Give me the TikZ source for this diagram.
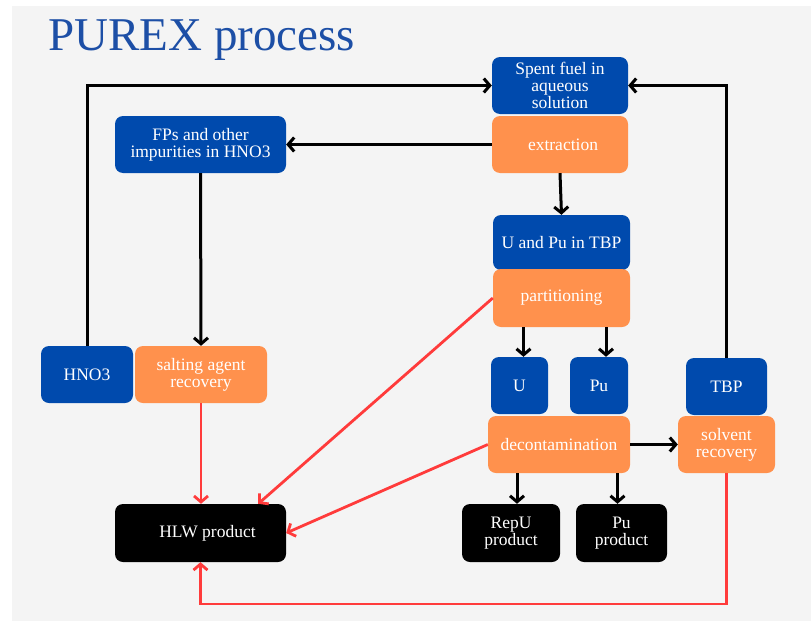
\documentclass[tikz,border=0pt]{standalone}
\usepackage{fontspec}
\setmainfont{Liberation Serif}
\usetikzlibrary{arrows.meta,calc}
\definecolor{bgray}{HTML}{F4F4F4}
\definecolor{boxblue}{HTML}{004AAD}
\definecolor{boxorange}{HTML}{FF914D}
\definecolor{titleblue}{HTML}{1D4FA6}
\definecolor{linered}{HTML}{FF3B3B}
\tikzset{
  box/.style={rectangle, rounded corners=8pt, inner sep=2pt, align=center, text=white,
    font=\fontsize{17.5}{17}\selectfont},
  bluebox/.style={box, fill=boxblue},
  orangebox/.style={box, fill=boxorange},
  blackbox/.style={box, fill=black},
  arr/.style={line width=3pt, -{Straight Barb[length=6pt,width=14pt,line width=3pt]}},
  redarr/.style={draw=linered, line width=2.8pt, -{Straight Barb[length=6pt,width=14pt,line width=2.8pt]}},
}
\begin{document}
\begin{tikzpicture}[x=1pt,y=-1pt]
\fill[white] (0,0) rectangle (811,621);
\useasboundingbox (0,0) rectangle (811,621);
\fill[bgray] (12,6) rectangle (811,621);

\node[anchor=base west, text=titleblue, font=\fontsize{47}{47}\selectfont, inner sep=0pt] (title) at (48,50) {PUREX process};

\node[bluebox, minimum width=136pt, minimum height=57pt] (spent) at (560,85.5) {Spent fuel in\\aqueous\\solution};
\node[orangebox, minimum width=136pt, minimum height=57pt] (extr) at (560,144.5) {\hspace{6pt}extraction};
\node[bluebox, minimum width=171pt, minimum height=57pt] (fps) at (200.5,144.5) {FPs and other\\impurities in HNO3};
\node[bluebox, minimum width=137pt, minimum height=55pt] (uptbp) at (561.5,242.5) {U and Pu in TBP};
\node[orangebox, minimum width=137pt, minimum height=58pt] (part) at (561.5,298) {partitioning};
\node[bluebox, minimum width=57pt, minimum height=57pt] (u) at (519.5,385.5) {U};
\node[bluebox, minimum width=58pt, minimum height=57pt] (pu) at (599,385.5) {Pu};
\node[bluebox, minimum width=81pt, minimum height=57pt] (tbp) at (726.5,386.5) {TBP};
\node[orangebox, minimum width=142pt, minimum height=57pt] (decon) at (559,444.5) {decontamination};
\node[orangebox, minimum width=97pt, minimum height=57pt] (solv) at (726.5,444.5) {solvent\\recovery};
\node[blackbox, minimum width=98pt, minimum height=58pt] (repu) at (511,533) {RepU\\product};
\node[blackbox, minimum width=91pt, minimum height=58pt] (puprod) at (621.5,533) {Pu\\product};
\node[bluebox, minimum width=92pt, minimum height=57pt] (hno3) at (87,374.5) {HNO3};
\node[orangebox, minimum width=132pt, minimum height=57pt] (salt) at (201,374.5) {salting agent\\recovery};
\node[blackbox, minimum width=171pt, minimum height=58pt] (hlw) at (200.5,533) {\hspace{14pt}HLW product};

\coordinate (bottomline) at (0,604);

% black connectors
\draw[arr] (hno3.north) |- (spent.west);
\draw[arr] (tbp.north) |- (spent.east);
\draw[arr] (extr.west) -- (fps.east);
\draw[arr] (extr.south) -- (uptbp.north);
\draw[arr] (fps.south) -- (salt.north);
\draw[arr] ([xshift=4pt]u.north |- part.south) -- ([xshift=4pt]u.north);
\draw[arr] ([xshift=7pt]pu.north |- part.south) -- ([xshift=7pt]pu.north);
\draw[arr] (decon.east) -- (solv.west);
\draw[arr] ([xshift=6pt]repu.north |- decon.south) -- ([xshift=6pt]repu.north);
\draw[arr] ([xshift=-4pt]puprod.north |- decon.south) -- ([xshift=-4pt]puprod.north);

% red connectors
\draw[redarr] (salt.south) -- (salt.south |- hlw.north);
\draw[redarr] (part.west) -- ([xshift=-28pt]hlw.north east);
\draw[redarr] (decon.west) -- (hlw.east);
\draw[redarr] (solv.south) -- (solv.south |- bottomline) -| (hlw.south);
\end{tikzpicture}
\end{document}
